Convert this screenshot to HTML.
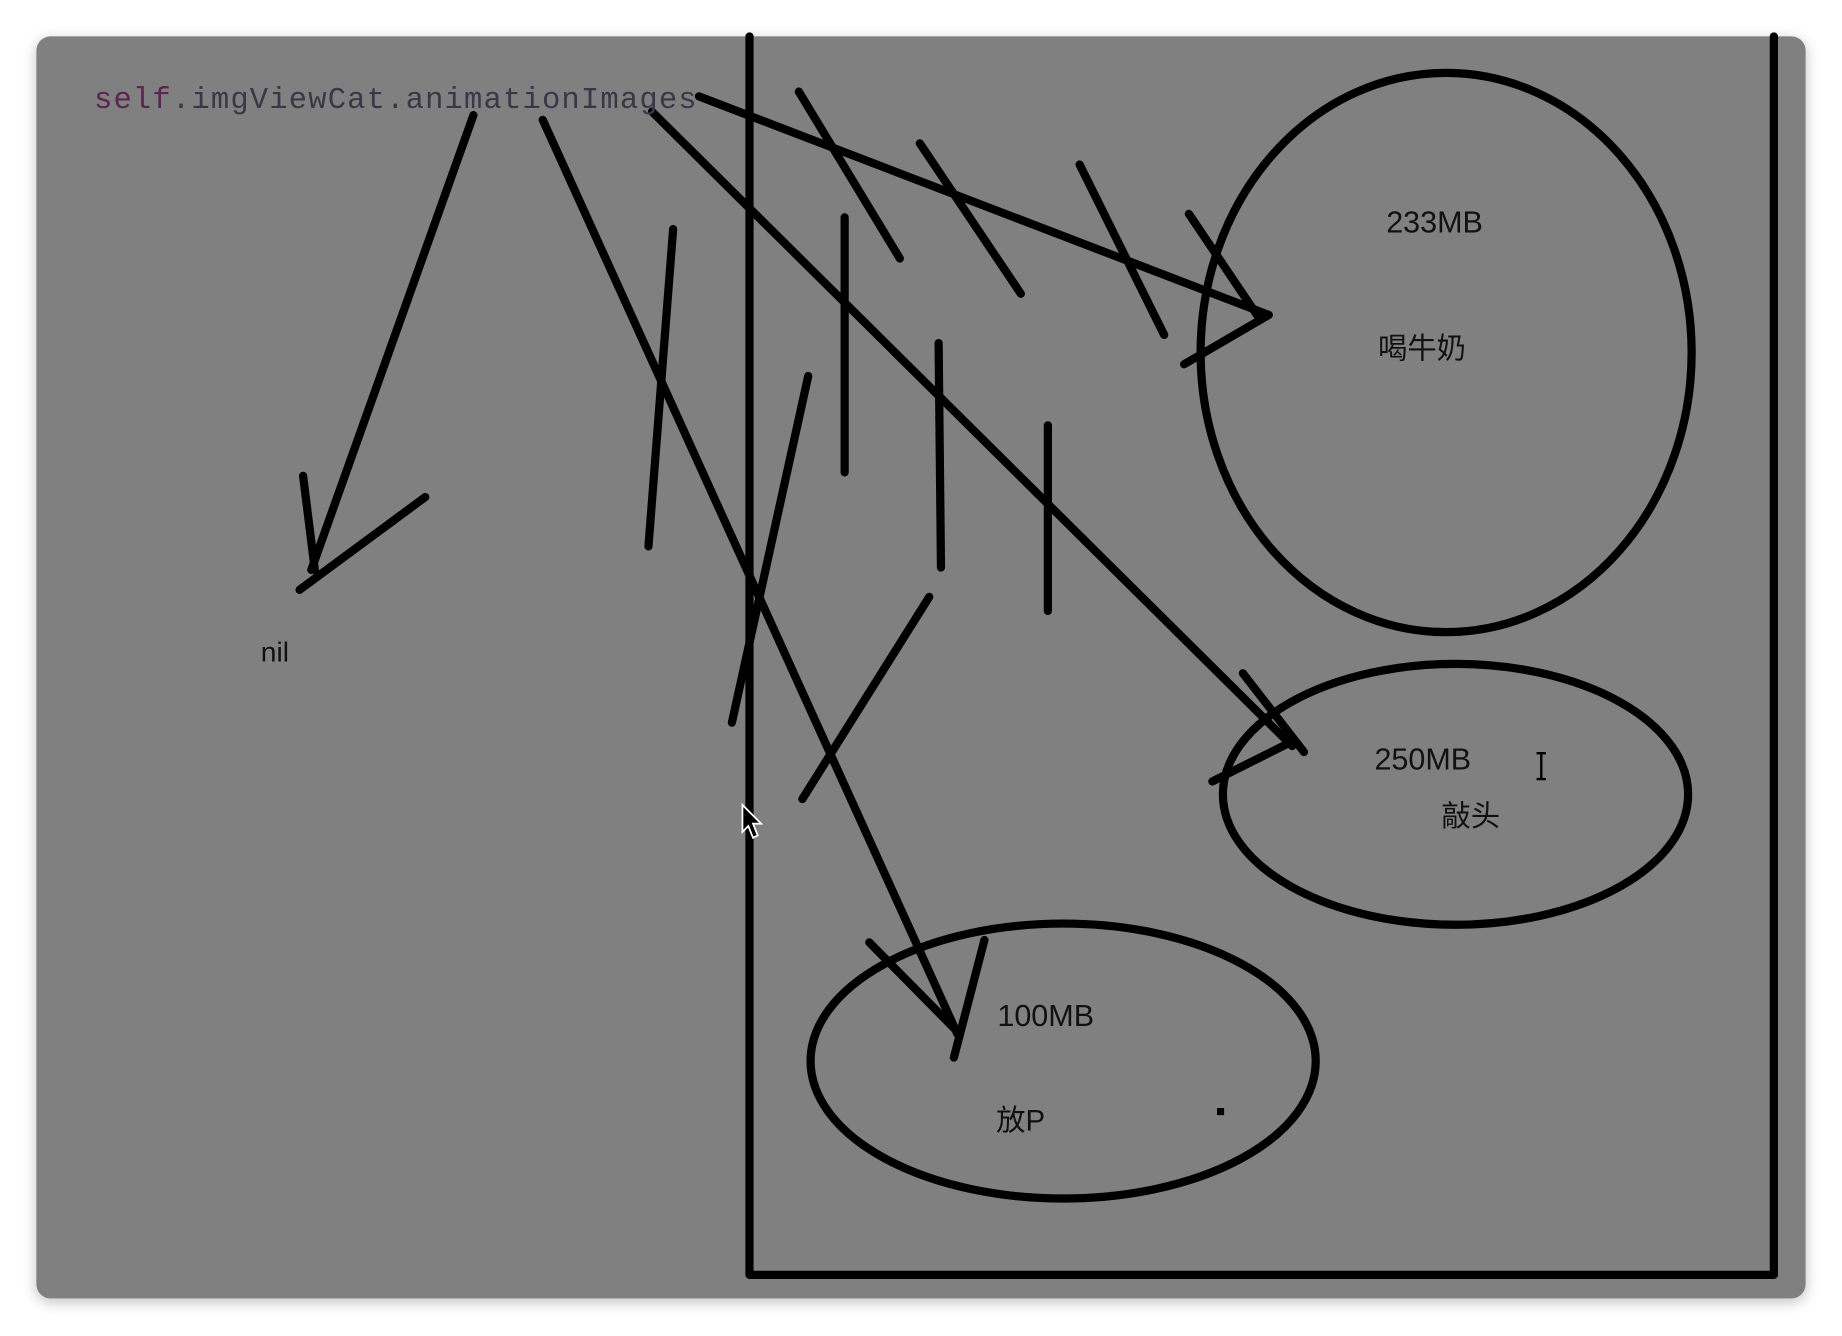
<!DOCTYPE html>
<html><head><meta charset="utf-8"><style>
html,body{margin:0;padding:0;background:#fff;width:1842px;height:1336px;overflow:hidden}
svg{display:block}
text{font-family:"Liberation Sans","Noto Sans CJK SC",sans-serif}
</style></head><body>
<svg width="1842" height="1336" viewBox="0 0 1568 1137" preserveAspectRatio="none" xmlns="http://www.w3.org/2000/svg">
<defs><filter id="sh" x="-5%" y="-5%" width="110%" height="110%"><feGaussianBlur stdDeviation="6"/></filter></defs>
<rect x="31" y="34" width="1506" height="1074" rx="12" fill="#000" opacity="0.25" filter="url(#sh)"/>
<rect x="31" y="31" width="1506" height="1074" rx="12" fill="#808080"/>
<g stroke="#000" stroke-width="7" fill="none" stroke-linecap="round" stroke-linejoin="round">
<polyline points="638,31 638,1085 1510,1085 1510,31"/>
<line x1="403" y1="98" x2="265" y2="485"/><line x1="258" y1="405" x2="268" y2="485"/><line x1="255" y1="502" x2="362" y2="423"/>
<line x1="462" y1="102" x2="815" y2="880"/><line x1="740" y1="802" x2="815" y2="878"/><line x1="838" y1="800" x2="812" y2="900"/>
<line x1="555" y1="95" x2="1100" y2="635"/><line x1="1058" y1="573" x2="1110" y2="640"/><line x1="1032" y1="665" x2="1098" y2="632"/>
<line x1="595" y1="82" x2="1080" y2="268"/><line x1="1012" y1="182" x2="1070" y2="268"/><line x1="1008" y1="310" x2="1080" y2="268"/>
<line x1="680" y1="78" x2="766" y2="220"/><line x1="783" y1="122" x2="869" y2="250"/><line x1="919" y1="140" x2="991" y2="285"/>
<line x1="573" y1="195" x2="552" y2="465"/><line x1="719" y1="185" x2="719" y2="402"/><line x1="799" y1="292" x2="801" y2="483"/>
<line x1="892" y1="362" x2="892" y2="520"/><line x1="688" y1="320" x2="623" y2="615"/><line x1="791" y1="508" x2="683" y2="680"/>
<ellipse cx="1231" cy="300" rx="209" ry="238"/>
<ellipse cx="1239" cy="676" rx="198" ry="111"/>
<ellipse cx="905" cy="903" rx="215" ry="117"/>
</g>
<text x="80" y="92" textLength="513" lengthAdjust="spacing" style="font-family:'Liberation Mono',monospace" font-size="26" fill="#3a3848"><tspan fill="#5a2550">self</tspan>.imgViewCat.animationImages</text>
<text x="222" y="563" font-size="24" fill="#111">nil</text>
<text x="1180" y="198" font-size="26" fill="#111">233MB</text>
<text x="1173" y="305" font-size="25" fill="#111">喝牛奶</text>
<text x="1170" y="655" font-size="26" fill="#111">250MB</text>
<text x="1227" y="703" font-size="25" fill="#111">敲头</text>
<text x="849" y="873" font-size="26" fill="#111">100MB</text>
<text x="848" y="962" font-size="25" fill="#111">放P</text>
<rect x="1036" y="943" width="6" height="6" fill="#000"/>
<path d="M632,685 L632,708 L637,703 L641,713 L645,711 L641,701 L648,701 Z" fill="#000" stroke="#fff" stroke-width="1.5"/>
<path d="M1308,641 h8 M1312,641 v22 M1308,663 h8" stroke="#000" stroke-width="2" fill="none"/>
</svg>
</body></html>
